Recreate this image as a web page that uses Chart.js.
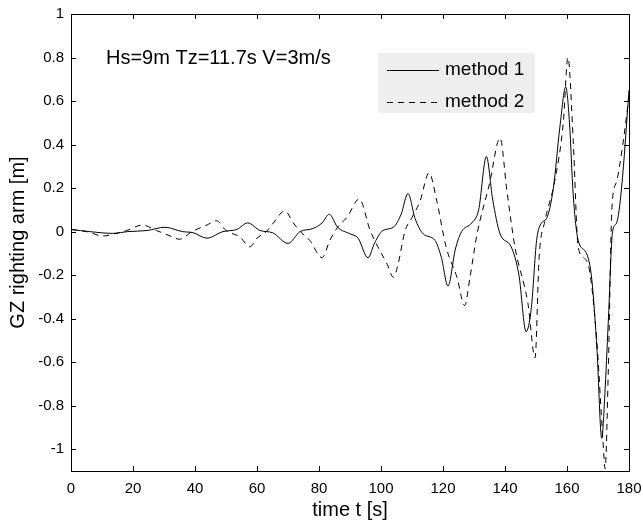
<!DOCTYPE html>
<html>
<head>
<meta charset="utf-8">
<script src="https://cdn.jsdelivr.net/npm/chart.js@4/dist/chart.umd.min.js"></script>
<style>
  html, body { margin: 0; padding: 0; background: #fff; }
  #wrap { width: 643px; height: 523px; }
</style>
</head>
<body>
<div id="wrap"><canvas id="gz"></canvas></div>
<script>
// method 1 (solid)
const time1 = [0, 6, 13.5, 18.3, 24.5, 30.3, 36, 39.4, 43.8, 49, 53.5, 57, 61, 65, 70, 73.9, 78, 81, 83.3, 86,
  90, 92.6, 95.8, 98, 100.6, 104, 106.5, 108.7, 111, 113.6, 117.4, 119.5, 121.6, 124, 126, 129.3, 131.5, 134,
  136, 138.4, 142, 144.5, 146.8, 148.5, 150.2, 151.8, 153.4, 155.6, 157.7, 159.6, 160.8, 162, 163.6, 166.3,
  168, 169.7, 171.2, 172.2, 173.3, 174.7, 176, 177.6, 180];
const gz1 = [0.01, 0.0, -0.008, 0.0, 0.005, 0.02, 0.0, -0.005, -0.03, 0.0, 0.01, 0.04, 0.005, -0.005, -0.054, 0.0,
  0.014, 0.04, 0.08, 0.02, -0.01, -0.03, -0.12, -0.05, 0.005, 0.02, 0.08, 0.175, 0.06, -0.01, -0.04, -0.12,
  -0.25, -0.08, 0.0, 0.04, 0.1, 0.345, 0.15, -0.01, -0.07, -0.2, -0.46, -0.35, -0.04, 0.04, 0.06, 0.2, 0.48,
  0.665, 0.5, 0.17, -0.04, -0.1, -0.22, -0.55, -0.95, -0.75, -0.42, 0.0, 0.04, 0.2, 0.65];

// method 2 (dashed)
const time2 = [0, 5, 10.4, 14, 18, 23, 27.6, 32, 35, 39, 43.8, 47, 50, 54.5, 57.7, 60, 63, 65, 69, 71.7, 74, 77,
  81, 83.5, 86, 89, 93, 96.5, 99, 102, 104, 105.5, 107.7, 110, 112.6, 115.5, 118, 121, 124.5, 127, 128.7, 131,
  135, 138.4, 140.6, 143.2, 147.4, 149.7, 151, 152.9, 156, 158.8, 160.3, 162, 163.6, 165.5, 167.4, 169.6,
  171.6, 172.3, 173.3, 174.5, 176, 178, 180];
const gz2 = [0.01, 0.0, -0.02, -0.01, 0.005, 0.03, 0.005, -0.02, -0.035, 0.0, 0.03, 0.05, 0.005, -0.025, -0.07,
  -0.03, 0.0, 0.035, 0.095, 0.04, 0.0, -0.04, -0.12, -0.04, 0.02, 0.065, 0.15, 0.005, -0.07, -0.15, -0.21,
  -0.15, 0.0, 0.065, 0.14, 0.27, 0.14, -0.07, -0.21, -0.34, -0.21, -0.01, 0.22, 0.43, 0.19, -0.07, -0.33,
  -0.58, -0.12, 0.05, 0.23, 0.5, 0.80, 0.42, -0.07, -0.12, -0.19, -0.5, -0.96, -1.09, -0.65, 0.11, 0.23, 0.4,
  0.62];

const seriesNames = ["method 1", "method 2"];
const xTicks = [0, 20, 40, 60, 80, 100, 120, 140, 160, 180];
const yTicks = [-1, -0.8, -0.6, -0.4, -0.2, 0, 0.2, 0.4, 0.6, 0.8, 1];
const note = "Hs=9m Tz=11.7s V=3m/s";

const FONT = "'Liberation Sans', Arial, sans-serif";

function toPoints(xs, ys) {
  return xs.map((x, i) => ({ x: x, y: ys[i] }));
}

// box, inward ticks, annotation and legend
const decorations = {
  id: 'decorations',
  afterDraw(chart) {
    const ctx = chart.ctx;
    const { left, right, top, bottom } = chart.chartArea;
    const xs = chart.scales.x, ys = chart.scales.y;
    const tl = 5;
    ctx.save();
    ctx.strokeStyle = '#000';
    ctx.lineWidth = 1;
    ctx.setLineDash([]);
    ctx.strokeRect(Math.round(left) + 0.5, Math.round(top) + 0.5,
      Math.round(right - left), Math.round(bottom - top));
    ctx.beginPath();
    xTicks.forEach(v => {
      const px = Math.round(xs.getPixelForValue(v)) + 0.5;
      ctx.moveTo(px, bottom); ctx.lineTo(px, bottom - tl);
      ctx.moveTo(px, top); ctx.lineTo(px, top + tl);
    });
    yTicks.forEach(v => {
      const py = Math.round(ys.getPixelForValue(v)) + 0.5;
      ctx.moveTo(left, py); ctx.lineTo(left + tl, py);
      ctx.moveTo(right, py); ctx.lineTo(right - tl, py);
    });
    ctx.stroke();

    // annotation
    ctx.fillStyle = '#000';
    ctx.font = '20px ' + FONT;
    ctx.textBaseline = 'alphabetic';
    ctx.textAlign = 'left';
    ctx.fillText(note, 106, 64);

    // legend
    const lx = 378, ly = 53, lw = 157, lh = 60;
    ctx.fillStyle = '#eeeeee';
    ctx.fillRect(lx, ly, lw, lh);
    ctx.font = '19px ' + FONT;
    chart.data.datasets.forEach((ds, i) => {
      const y = ly + 17 + i * 32;
      ctx.strokeStyle = ds.borderColor;
      ctx.lineWidth = 1;
      ctx.setLineDash(ds.borderDash || []);
      ctx.beginPath();
      ctx.moveTo(387, y + 0.5);
      ctx.lineTo(439, y + 0.5);
      ctx.stroke();
      ctx.setLineDash([]);
      ctx.fillStyle = '#000';
      ctx.textBaseline = 'middle';
      ctx.fillText(ds.label, 445, y);
    });
    ctx.restore();
  }
};

new Chart(document.getElementById('gz'), {
  type: 'line',
  data: {
    datasets: [
      {
        label: seriesNames[0],
        data: toPoints(time1, gz1),
        borderColor: '#000',
        borderWidth: 1,
        pointRadius: 0,
        cubicInterpolationMode: 'monotone',
        fill: false
      },
      {
        label: seriesNames[1],
        data: toPoints(time2, gz2),
        borderColor: '#000',
        borderWidth: 1,
        borderDash: [6, 5],
        pointRadius: 0,
        cubicInterpolationMode: 'monotone',
        fill: false
      }
    ]
  },
  options: {
    responsive: true,
    maintainAspectRatio: false,
    animation: false,
    events: [],
    layout: { padding: { left: 6, top: 14, right: 14, bottom: 1 } },
    plugins: {
      legend: { display: false },
      tooltip: { enabled: false }
    },
    scales: {
      x: {
        type: 'linear',
        min: 0,
        max: 180,
        grid: { display: false, drawTicks: false },
        border: { display: false },
        afterBuildTicks: (scale) => { scale.ticks = xTicks.map(v => ({ value: v })); },
        afterFit: (scale) => {
          scale.height = 51;
          scale.paddingLeft = 0;
          scale.paddingRight = 0;
        },
        ticks: {
          color: '#000',
          padding: 9,
          maxRotation: 0,
          font: { family: FONT, size: 15 }
        },
        title: {
          display: true,
          text: 'time t [s]',
          color: '#000',
          padding: { top: 0, bottom: 0 },
          font: { family: FONT, size: 20 }
        }
      },
      y: {
        min: -1.1,
        max: 1,
        grid: { display: false, drawTicks: false },
        border: { display: false },
        afterBuildTicks: (scale) => { scale.ticks = yTicks.map(v => ({ value: v })); },
        afterFit: (scale) => {
          scale.width = 65;
          scale.paddingTop = 0;
          scale.paddingBottom = 0;
        },
        ticks: {
          color: '#000',
          padding: 7,
          font: { family: FONT, size: 15 },
          callback: (v) => String(Math.round(v * 10) / 10)
        },
        title: {
          display: true,
          text: 'GZ righting arm [m]',
          color: '#000',
          padding: { top: 0, bottom: 0 },
          font: { family: FONT, size: 20 }
        }
      }
    }
  },
  plugins: [decorations]
});
</script>
</body>
</html>
